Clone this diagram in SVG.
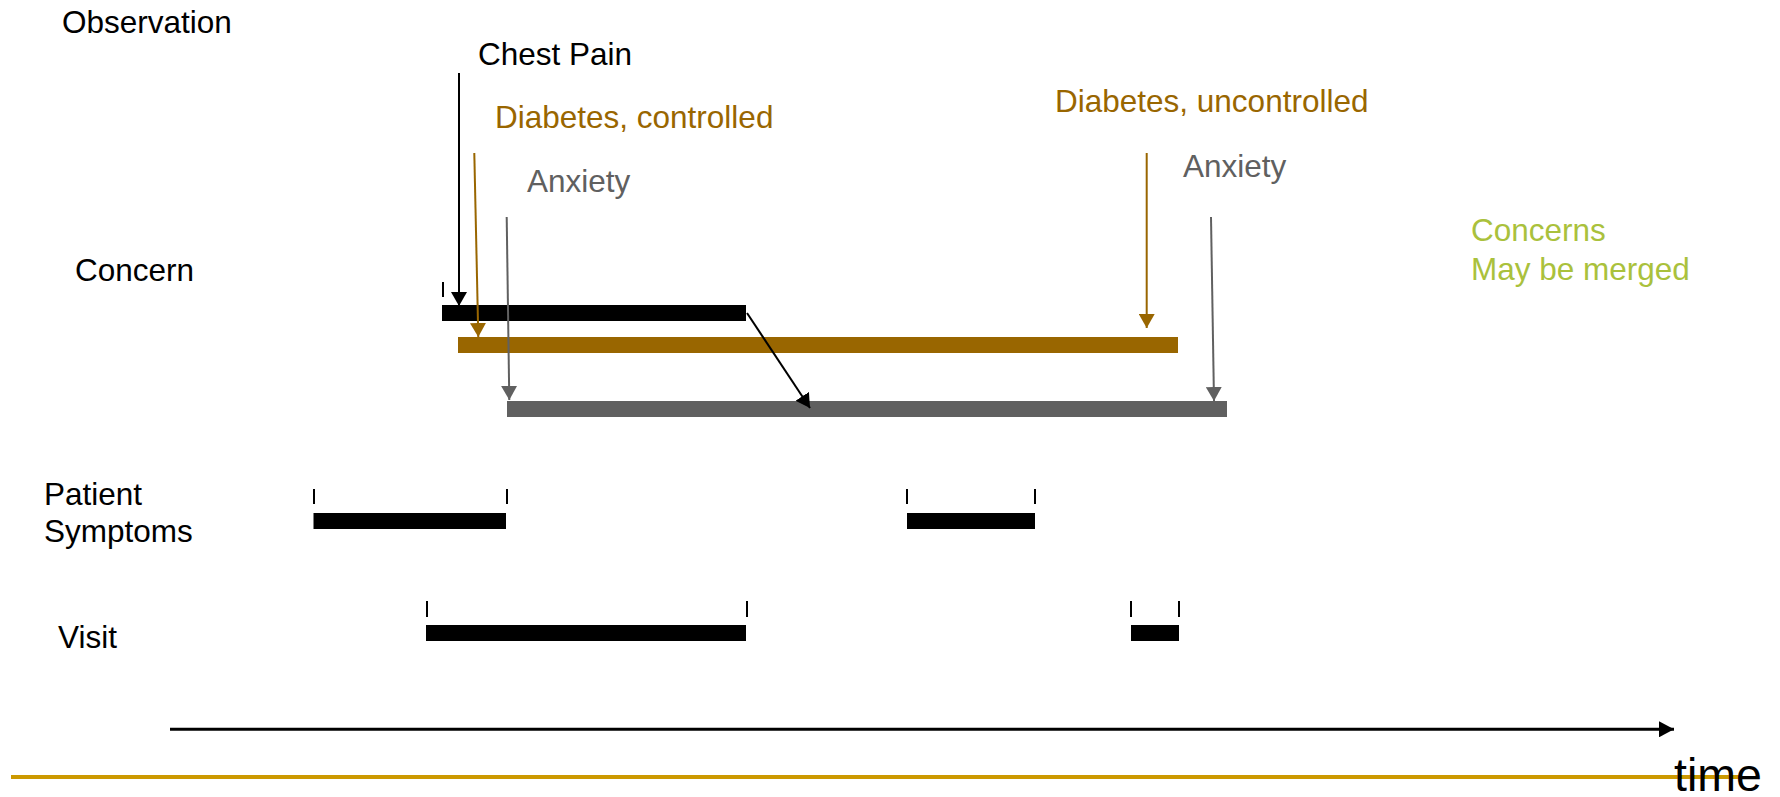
<svg xmlns="http://www.w3.org/2000/svg" width="1780" height="797" viewBox="0 0 1780 797">
<style>
text{font-family:"Liberation Sans",Arial,sans-serif;font-size:31.5px}
.k{fill:#000}
.br{fill:#996600}
.gr{fill:#606060}
.gn{fill:#aac13c}
.tick{stroke:#000;stroke-width:2}
.ak{stroke:#000;stroke-width:2;fill:none}
.ab{stroke:#996600;stroke-width:2;fill:none}
.ag{stroke:#606060;stroke-width:2;fill:none}
</style>
<defs>
<marker id="mk" markerUnits="userSpaceOnUse" markerWidth="14" markerHeight="16" refX="14" refY="8" orient="auto"><path d="M0,0 L14,8 L0,16 z" fill="#000"/></marker>
<marker id="mb" markerUnits="userSpaceOnUse" markerWidth="14" markerHeight="16" refX="14" refY="8" orient="auto"><path d="M0,0 L14,8 L0,16 z" fill="#996600"/></marker>
<marker id="mg" markerUnits="userSpaceOnUse" markerWidth="14" markerHeight="16" refX="14" refY="8" orient="auto"><path d="M0,0 L14,8 L0,16 z" fill="#606060"/></marker>
<marker id="mt" markerUnits="userSpaceOnUse" markerWidth="15" markerHeight="16" refX="15" refY="8" orient="auto"><path d="M0,0 L15,8 L0,16 z" fill="#000"/></marker>
</defs>
<g id="labels">
<text x="62" y="33" class="k">Observation</text>
<text x="75" y="281" class="k">Concern</text>
<text x="44" y="505" class="k">Patient</text>
<text x="44" y="542" class="k">Symptoms</text>
<text x="58" y="648" class="k">Visit</text>
</g>
<g id="obs-chest-pain"><text x="478" y="65" class="k">Chest Pain</text></g>
<g id="obs-diabetes-controlled"><text x="495" y="128" class="br">Diabetes, controlled</text></g>
<g id="obs-anxiety-1"><text x="527" y="192" class="gr">Anxiety</text></g>
<g id="obs-diabetes-uncontrolled"><text x="1055" y="112" class="br">Diabetes, uncontrolled</text></g>
<g id="obs-anxiety-2"><text x="1183" y="177" class="gr">Anxiety</text></g>
<g id="note"><text x="1471" y="241" class="gn">Concerns</text><text x="1471" y="280" class="gn">May be merged</text></g>
<g id="concern-chest-pain">
<line x1="443" y1="282" x2="443" y2="297" class="tick"/>
<rect x="442" y="305" width="304" height="16" fill="#000"/>
</g>
<g id="concern-diabetes"><rect x="458" y="337" width="720" height="16" fill="#996600"/></g>
<g id="concern-anxiety"><rect x="507" y="401" width="720" height="16" fill="#606060"/></g>
<g id="symptoms-1">
<line x1="314" y1="489" x2="314" y2="504" class="tick"/>
<line x1="507" y1="489" x2="507" y2="504" class="tick"/>
<rect x="313.5" y="513" width="192.5" height="16" fill="#000"/>
</g>
<g id="symptoms-2">
<line x1="907" y1="489" x2="907" y2="504" class="tick"/>
<line x1="1035" y1="489" x2="1035" y2="504" class="tick"/>
<rect x="907" y="513" width="128" height="16" fill="#000"/>
</g>
<g id="visit-1">
<line x1="427" y1="601" x2="427" y2="617" class="tick"/>
<line x1="747" y1="601" x2="747" y2="617" class="tick"/>
<rect x="426" y="625" width="320" height="16" fill="#000"/>
</g>
<g id="visit-2">
<line x1="1131" y1="601" x2="1131" y2="617" class="tick"/>
<line x1="1179" y1="601" x2="1179" y2="617" class="tick"/>
<rect x="1131" y="625" width="48" height="16" fill="#000"/>
</g>
<g id="connectors">
<line x1="459" y1="73" x2="459" y2="306" class="ak" marker-end="url(#mk)"/>
<line x1="474.3" y1="153" x2="478.3" y2="337" class="ab" marker-end="url(#mb)"/>
<line x1="506.7" y1="217" x2="509.3" y2="400" class="ag" marker-end="url(#mg)"/>
<line x1="1146.7" y1="153" x2="1146.7" y2="328" class="ab" marker-end="url(#mb)"/>
<line x1="1211" y1="217" x2="1214" y2="401" class="ag" marker-end="url(#mg)"/>
<line x1="747" y1="313" x2="810" y2="408" class="ak" marker-end="url(#mk)"/>
</g>
<g id="time-axis">
<line x1="11" y1="777" x2="1739" y2="777" stroke="#cc9900" stroke-width="4"/>
<line x1="170" y1="729.3" x2="1674" y2="729.3" stroke="#000" stroke-width="3" marker-end="url(#mt)"/>
<text x="1674" y="791" class="k" style="font-size:46.5px">time</text>
</g>
</svg>
